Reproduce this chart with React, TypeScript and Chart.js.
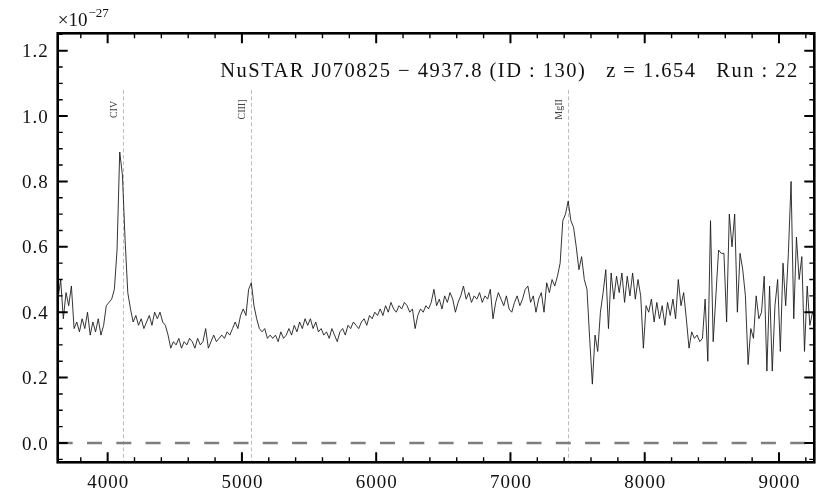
import React, { useEffect, useRef } from "react";
import { Chart, registerables } from "chart.js";

Chart.register(...registerables);

// ---- data ----
const WAVE_START = 3630; // Å, first sample
const WAVE_STEP = 20; // Å, sampling of the spectrum
const FLUX = [
  0.44, 0.50, 0.38, 0.46, 0.42, 0.48, 0.35, 0.37, 0.34, 0.38,
  0.35, 0.40, 0.33, 0.37, 0.34, 0.38, 0.33, 0.36, 0.42, 0.43,
  0.44, 0.47, 0.59, 0.89, 0.82, 0.62, 0.46, 0.41, 0.37, 0.39,
  0.36, 0.38, 0.35, 0.37, 0.39, 0.36, 0.40, 0.38, 0.40, 0.37,
  0.36, 0.33, 0.29, 0.31, 0.30, 0.32, 0.29, 0.31, 0.30, 0.32,
  0.31, 0.29, 0.32, 0.30, 0.31, 0.35, 0.29, 0.31, 0.33, 0.31,
  0.32, 0.33, 0.32, 0.34, 0.33, 0.35, 0.37, 0.35, 0.39, 0.41,
  0.39, 0.47, 0.49, 0.42, 0.38, 0.35, 0.34, 0.35, 0.32, 0.33,
  0.32, 0.33, 0.31, 0.34, 0.32, 0.33, 0.35, 0.33, 0.36, 0.34,
  0.37, 0.35, 0.38, 0.36, 0.38, 0.35, 0.37, 0.34, 0.35, 0.33,
  0.34, 0.32, 0.35, 0.33, 0.31, 0.34, 0.35, 0.33, 0.36, 0.35,
  0.37, 0.36, 0.35, 0.37, 0.38, 0.36, 0.39, 0.38, 0.40, 0.39,
  0.41, 0.39, 0.42, 0.40, 0.43, 0.41, 0.40, 0.42, 0.41, 0.43,
  0.42, 0.40, 0.41, 0.35, 0.39, 0.41, 0.40, 0.42, 0.41, 0.43,
  0.47, 0.42, 0.44, 0.41, 0.45, 0.43, 0.46, 0.44, 0.40, 0.43,
  0.45, 0.48, 0.44, 0.46, 0.43, 0.45, 0.44, 0.46, 0.43, 0.45,
  0.44, 0.47, 0.38, 0.43, 0.46, 0.44, 0.42, 0.45, 0.41, 0.40,
  0.43, 0.45, 0.42, 0.44, 0.47, 0.48, 0.43, 0.45, 0.40, 0.44,
  0.46, 0.40, 0.49, 0.46, 0.50, 0.48, 0.51, 0.55, 0.68, 0.70,
  0.74, 0.68, 0.66, 0.60, 0.53, 0.57, 0.50, 0.47, 0.32, 0.18,
  0.33, 0.28, 0.40, 0.46, 0.53, 0.35, 0.52, 0.44, 0.51, 0.46,
  0.52, 0.43, 0.51, 0.45, 0.52, 0.44, 0.50, 0.45, 0.29, 0.42,
  0.40, 0.44, 0.37, 0.43, 0.38, 0.42, 0.36, 0.43, 0.39, 0.44,
  0.38, 0.50, 0.42, 0.46, 0.38, 0.29, 0.34, 0.32, 0.33, 0.31,
  0.32, 0.44, 0.25, 0.68, 0.31, 0.45, 0.59, 0.58, 0.58, 0.37,
  0.70, 0.60, 0.70, 0.40, 0.58, 0.53, 0.45, 0.24, 0.35, 0.32,
  0.45, 0.38, 0.40, 0.51, 0.22, 0.48, 0.22, 0.42, 0.50, 0.28,
  0.55, 0.42, 0.58, 0.80, 0.38, 0.63, 0.50, 0.57, 0.28, 0.48,
  0.36, 0.40, 0.38,
];

const X_RANGE = [3628, 9263];
const Y_RANGE = [-0.059, 1.253];
const X_TICKS = [4000, 5000, 6000, 7000, 8000, 9000];
const X_TICK_LABELS = ["4000", "5000", "6000", "7000", "8000", "9000"];
const Y_TICKS = [0.0, 0.2, 0.4, 0.6, 0.8, 1.0, 1.2];
const Y_TICK_LABELS = ["0.0", "0.2", "0.4", "0.6", "0.8", "1.0", "1.2"];
const X_MINOR_STEP = 200;
const Y_MINOR_STEP = 0.05;

const LINE_NAMES = ["CIV", "CIII]", "MgII"];
const LINE_WAVES = [4111, 5066, 7427];
const LINE_TOP = 1.08;
const LINE_LABEL_Y = 1.02;

const TITLE = "NuSTAR J070825 \u2212 4937.8 (ID : 130)   z = 1.654   Run : 22";
const SCALE_BASE = "\u00d710";
const SCALE_EXP = "\u221227";

const SERIF = '"Liberation Serif", "DejaVu Serif", serif';

const decorPlugin = {
  id: "decor",
  beforeDatasetsDraw(chart: any) {
    const { ctx, chartArea: a, scales } = chart;
    const x = scales.x;
    const y = scales.y;
    ctx.save();
    // emission-line markers
    ctx.strokeStyle = "#bdbdbd";
    ctx.lineWidth = 1;
    ctx.setLineDash([4, 2.5]);
    LINE_WAVES.forEach((w) => {
      const px = Math.round(x.getPixelForValue(w)) + 0.5;
      ctx.beginPath();
      ctx.moveTo(px, y.getPixelForValue(LINE_TOP));
      ctx.lineTo(px, a.bottom);
      ctx.stroke();
    });
    // zero line
    ctx.strokeStyle = "#7f7f7f";
    ctx.lineWidth = 2.6;
    ctx.setLineDash([15, 14.3]);
    const zy = y.getPixelForValue(0);
    ctx.beginPath();
    ctx.moveTo(a.left, zy);
    ctx.lineTo(a.right, zy);
    ctx.stroke();
    ctx.setLineDash([]);
    // line labels
    ctx.fillStyle = "#444";
    ctx.font = `10px ${SERIF}`;
    ctx.textAlign = "center";
    ctx.textBaseline = "middle";
    LINE_WAVES.forEach((w, i) => {
      const px = x.getPixelForValue(w);
      ctx.save();
      ctx.translate(px - 8.5, y.getPixelForValue(LINE_LABEL_Y));
      ctx.rotate(-Math.PI / 2);
      ctx.fillText(LINE_NAMES[i], 0, 0);
      ctx.restore();
    });
    ctx.restore();
  },
  afterDatasetsDraw(chart: any) {
    const { ctx, chartArea: a, scales } = chart;
    const x = scales.x;
    const y = scales.y;
    ctx.save();
    ctx.strokeStyle = "#000";
    // minor ticks
    ctx.lineWidth = 1.4;
    const minLen = 5;
    const majLen = 10;
    for (let v = Math.ceil(X_RANGE[0] / X_MINOR_STEP) * X_MINOR_STEP; v <= X_RANGE[1]; v += X_MINOR_STEP) {
      if (X_TICKS.includes(v)) continue;
      const px = x.getPixelForValue(v);
      ctx.beginPath();
      ctx.moveTo(px, a.bottom);
      ctx.lineTo(px, a.bottom - minLen);
      ctx.moveTo(px, a.top);
      ctx.lineTo(px, a.top + minLen);
      ctx.stroke();
    }
    for (let k = Math.ceil(Y_RANGE[0] / Y_MINOR_STEP); k * Y_MINOR_STEP <= Y_RANGE[1]; k++) {
      const v = k * Y_MINOR_STEP;
      if (k % 4 === 0) continue;
      const py = y.getPixelForValue(v);
      ctx.beginPath();
      ctx.moveTo(a.left, py);
      ctx.lineTo(a.left + minLen, py);
      ctx.moveTo(a.right, py);
      ctx.lineTo(a.right - minLen, py);
      ctx.stroke();
    }
    // major ticks
    ctx.lineWidth = 2;
    X_TICKS.forEach((v) => {
      const px = x.getPixelForValue(v);
      ctx.beginPath();
      ctx.moveTo(px, a.bottom);
      ctx.lineTo(px, a.bottom - majLen);
      ctx.moveTo(px, a.top);
      ctx.lineTo(px, a.top + majLen);
      ctx.stroke();
    });
    Y_TICKS.forEach((v) => {
      const py = y.getPixelForValue(v);
      ctx.beginPath();
      ctx.moveTo(a.left, py);
      ctx.lineTo(a.left + majLen, py);
      ctx.moveTo(a.right, py);
      ctx.lineTo(a.right - majLen, py);
      ctx.stroke();
    });
    // frame
    ctx.lineWidth = 2.6;
    ctx.strokeRect(a.left, a.top, a.right - a.left, a.bottom - a.top);

    // tick labels
    ctx.fillStyle = "#111";
    ctx.font = `19px ${SERIF}`;
    (ctx as any).letterSpacing = "1px";
    ctx.textAlign = "center";
    ctx.textBaseline = "alphabetic";
    X_TICKS.forEach((v, i) => {
      ctx.fillText(X_TICK_LABELS[i], x.getPixelForValue(v) + 0.5, a.bottom + 26);
    });
    ctx.textAlign = "right";
    Y_TICKS.forEach((v, i) => {
      ctx.fillText(Y_TICK_LABELS[i], a.left - 9, y.getPixelForValue(v) + 6.5);
    });

    // scale factor
    (ctx as any).letterSpacing = "0px";
    ctx.textAlign = "left";
    ctx.font = `19px ${SERIF}`;
    ctx.fillText(SCALE_BASE, a.left, a.top - 7);
    const bw = ctx.measureText(SCALE_BASE).width;
    ctx.font = `13px ${SERIF}`;
    ctx.fillText(SCALE_EXP, a.left + bw + 1, a.top - 16);

    // title
    ctx.font = `20.5px ${SERIF}`;
    const target = 577;
    const w0 = ctx.measureText(TITLE).width;
    const sp = Math.max(0, (target - w0) / (TITLE.length - 1));
    (ctx as any).letterSpacing = `${sp.toFixed(2)}px`;
    ctx.textAlign = "left";
    ctx.fillText(TITLE, a.right - 17 - target, a.top + 44);
    (ctx as any).letterSpacing = "0px";
    ctx.restore();
  },
};

export default function App() {
  const ref = useRef<HTMLCanvasElement | null>(null);
  useEffect(() => {
    if (!ref.current) return;
    const points = FLUX.map((f, i) => ({ x: WAVE_START + i * WAVE_STEP, y: f }));
    const chart = new Chart(ref.current, {
      type: "line",
      data: {
        datasets: [
          {
            data: points,
            borderColor: "rgba(25,25,25,0.88)",
            borderWidth: 1,
            pointRadius: 0,
            tension: 0,
            fill: false,
          },
        ],
      },
      options: {
        animation: false,
        responsive: false,
        devicePixelRatio: 1,
        events: [],
        layout: { padding: { top: 33.3, right: 15.7, left: 0, bottom: 0 } },
        plugins: { legend: { display: false }, tooltip: { enabled: false } },
        scales: {
          x: {
            type: "linear",
            min: X_RANGE[0],
            max: X_RANGE[1],
            grid: { display: false },
            border: { display: false },
            ticks: { display: false },
            afterFit: (s: any) => {
              s.height = 35.7;
            },
          },
          y: {
            type: "linear",
            min: Y_RANGE[0],
            max: Y_RANGE[1],
            grid: { display: false },
            border: { display: false },
            ticks: { display: false },
            afterFit: (s: any) => {
              s.width = 57.7;
            },
          },
        },
      },
      plugins: [decorPlugin],
    } as any);
    return () => chart.destroy();
  }, []);
  return (
    <div style={{ position: "fixed", left: 0, top: 0, width: 830, height: 498, background: "#fff" }}>
      <canvas ref={ref} width={830} height={498} style={{ display: "block" }} />
    </div>
  );
}
